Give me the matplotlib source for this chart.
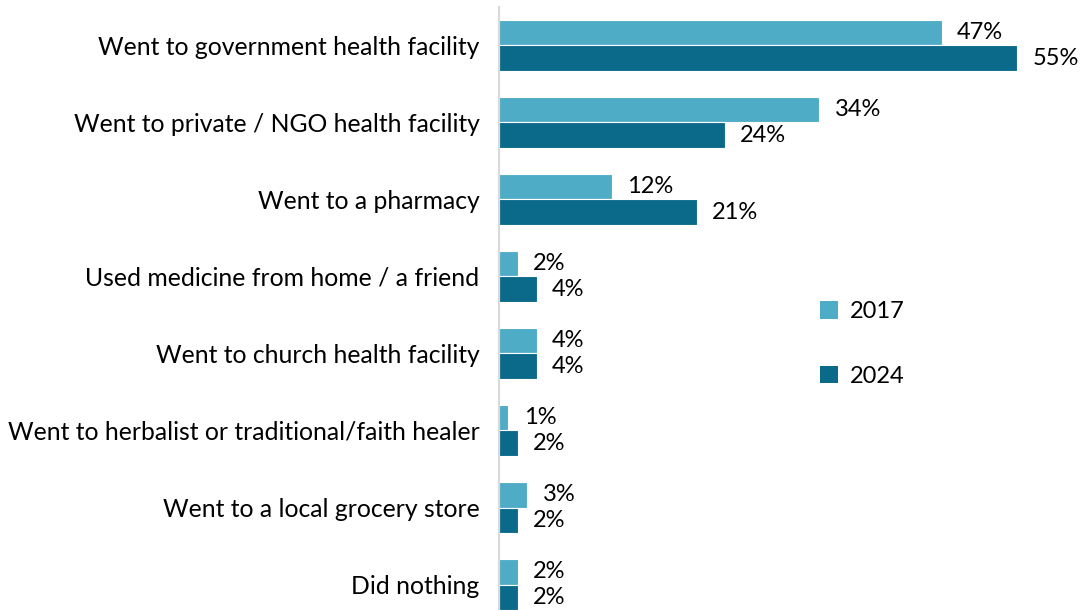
import matplotlib.pyplot as plt
from matplotlib.patches import Patch

categories = ['Went to government health facility',
              'Went to private / NGO health facility',
              'Went to a pharmacy',
              'Used medicine from home / a friend',
              'Went to church health facility',
              'Went to herbalist or traditional/faith healer',
              'Went to a local grocery store',
              'Did nothing']
y2017 = [47, 34, 12, 2, 4, 1, 3, 2]
y2024 = [55, 24, 21, 4, 4, 2, 2, 2]

c2017 = '#4FACC6'
c2024 = '#0B6A8A'

plt.rcParams['font.family'] = ['Lato', 'DejaVu Sans']

fig = plt.figure(figsize=(10.88, 6.10), dpi=100)
ax = fig.add_axes([499/1088, 1 - 623/610, 565/1088, 616/610])

h = 0.33
pos = list(range(len(categories)))
ax.barh([p - h/2 for p in pos], y2017, height=h, color=c2017, edgecolor='white', linewidth=0.8)
ax.barh([p + h/2 for p in pos], y2024, height=h, color=c2024, edgecolor='white', linewidth=0.8)

# value labels just past the end of each bar
for p, v in zip(pos, y2017):
    ax.annotate(f'{v}%', (v, p - h/2), xytext=(11, 0), textcoords='offset points',
                va='center', ha='left', fontsize=17, color='black')
for p, v in zip(pos, y2024):
    ax.annotate(f'{v}%', (v, p + h/2), xytext=(11, 0), textcoords='offset points',
                va='center', ha='left', fontsize=17, color='black')

ax.set_xlim(0, 60)
ax.set_ylim(7.5, -0.5)
ax.set_yticks(pos)
ax.set_yticklabels(categories, fontsize=17.8)
ax.tick_params(axis='y', length=0, pad=14)
ax.set_xticks([])
for s in ['top', 'right', 'bottom']:
    ax.spines[s].set_visible(False)
ax.spines['left'].set_color('#D9D9D9')
ax.spines['left'].set_linewidth(1.5)

handles = [Patch(facecolor=c2017, label='2017'), Patch(facecolor=c2024, label='2024')]
fig.legend(handles=handles, loc='upper left', bbox_to_anchor=(799/1088, 1 - 280/610),
           frameon=False, fontsize=17, handlelength=0.75, handleheight=0.75,
           labelspacing=1.85, handletextpad=0.5)

plt.savefig('out.png', dpi=100)
